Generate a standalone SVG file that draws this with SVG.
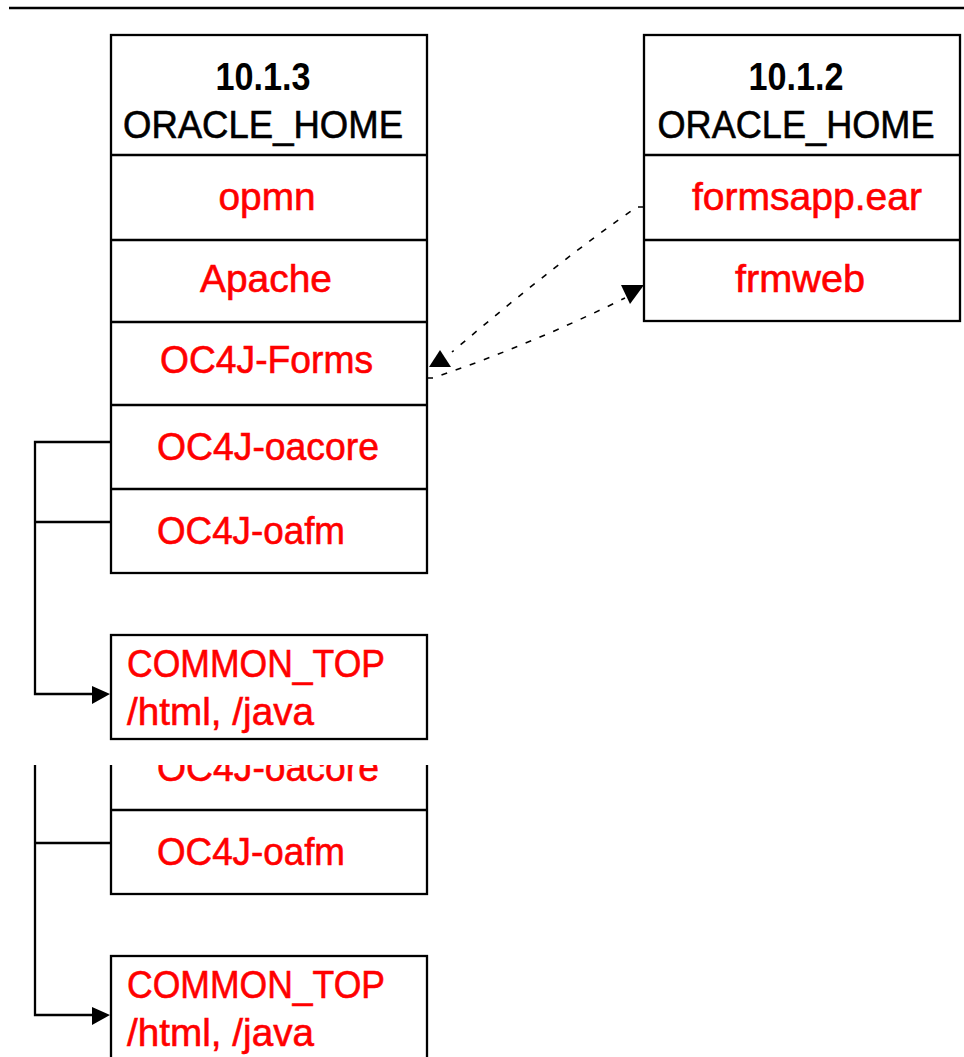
<svg xmlns="http://www.w3.org/2000/svg" width="964" height="1057" viewBox="0 0 964 1057">
<style>
.box{fill:#fff;stroke:#000;stroke-width:2.3}
.ln{fill:none;stroke:#000;stroke-width:2.3}
.dash{fill:none;stroke:#000;stroke-width:1.6;stroke-dasharray:6 9}
.hd{font-family:"Liberation Sans",Arial,sans-serif;font-size:39px;fill:#000;stroke:#000;stroke-width:0.6;text-anchor:middle}
.b{font-weight:bold;stroke-width:0}
.rd{font-family:"Liberation Sans",Arial,sans-serif;font-size:39px;fill:#f00;stroke:#f00;stroke-width:0.6}
.c{text-anchor:middle}
</style>
<defs>
<clipPath id="cut"><rect x="0" y="765" width="964" height="292"/></clipPath>
</defs>
<rect width="964" height="1057" fill="#fff"/>
<line x1="9" y1="8" x2="964" y2="8" class="ln"/>

<g id="home1013">
<rect x="111" y="35" width="316" height="538" class="box"/>
<line x1="111" y1="155" x2="427" y2="155" class="ln"/>
<line x1="111" y1="240" x2="427" y2="240" class="ln"/>
<line x1="111" y1="322" x2="427" y2="322" class="ln"/>
<line x1="111" y1="405" x2="427" y2="405" class="ln"/>
<line x1="111" y1="489" x2="427" y2="489" class="ln"/>
<text x="263" y="90" class="hd b" textLength="95" lengthAdjust="spacingAndGlyphs">10.1.3</text>
<text x="263" y="138" class="hd" textLength="280" lengthAdjust="spacingAndGlyphs">ORACLE_HOME</text>
<text x="267" y="210" class="rd c" textLength="97" lengthAdjust="spacingAndGlyphs">opmn</text>
<text x="266" y="292" class="rd c" textLength="132" lengthAdjust="spacingAndGlyphs">Apache</text>
<text x="160" y="373" class="rd" textLength="213" lengthAdjust="spacingAndGlyphs">OC4J-Forms</text>
<text x="157" y="460" class="rd" textLength="222" lengthAdjust="spacingAndGlyphs">OC4J-oacore</text>
<text x="157" y="544" class="rd" textLength="188" lengthAdjust="spacingAndGlyphs">OC4J-oafm</text>
</g>

<g id="home1012">
<rect x="644" y="35" width="316" height="286" class="box"/>
<line x1="644" y1="155" x2="960" y2="155" class="ln"/>
<line x1="644" y1="240" x2="960" y2="240" class="ln"/>
<text x="796" y="90" class="hd b" textLength="95" lengthAdjust="spacingAndGlyphs">10.1.2</text>
<text x="796" y="138" class="hd" textLength="277" lengthAdjust="spacingAndGlyphs">ORACLE_HOME</text>
<text x="807" y="210" class="rd c" textLength="230" lengthAdjust="spacingAndGlyphs">formsapp.ear</text>
<text x="800" y="292" class="rd c" textLength="130" lengthAdjust="spacingAndGlyphs">frmweb</text>
</g>

<g id="commontop">
<rect x="111" y="635" width="316" height="104" class="box"/>
<text x="127" y="677" class="rd" textLength="258" lengthAdjust="spacingAndGlyphs">COMMON_TOP</text>
<text x="127" y="725" class="rd" textLength="187" lengthAdjust="spacingAndGlyphs">/html, /java</text>
</g>

<g id="connectors">
<path d="M111,442 H35 V694 H93 M35,522 H111" class="ln"/>
<polygon points="92,686 110,694 92,704" fill="#000"/>
<path d="M644,207 H637 Q560,260 452,352" class="dash"/>
<polygon points="440,350 429,367 451,367" fill="#000"/>
<path d="M427,378 H433 Q530,345 625,298" class="dash"/>
<polygon points="621,285 644,285 630,304" fill="#000"/>
</g>

<g id="fragment" clip-path="url(#cut)">
<rect x="111" y="726" width="316" height="168" class="box"/>
<line x1="111" y1="810" x2="427" y2="810" class="ln"/>
<text x="157" y="781" class="rd" textLength="222" lengthAdjust="spacingAndGlyphs">OC4J-oacore</text>
<text x="157" y="865" class="rd" textLength="188" lengthAdjust="spacingAndGlyphs">OC4J-oafm</text>
<rect x="111" y="956" width="316" height="104" class="box"/>
<text x="127" y="998" class="rd" textLength="258" lengthAdjust="spacingAndGlyphs">COMMON_TOP</text>
<text x="127" y="1046" class="rd" textLength="187" lengthAdjust="spacingAndGlyphs">/html, /java</text>
<path d="M111,763 H35 V1015 H93 M35,843 H111" class="ln"/>
<polygon points="92,1007 110,1015 92,1025" fill="#000"/>
</g>
</svg>
